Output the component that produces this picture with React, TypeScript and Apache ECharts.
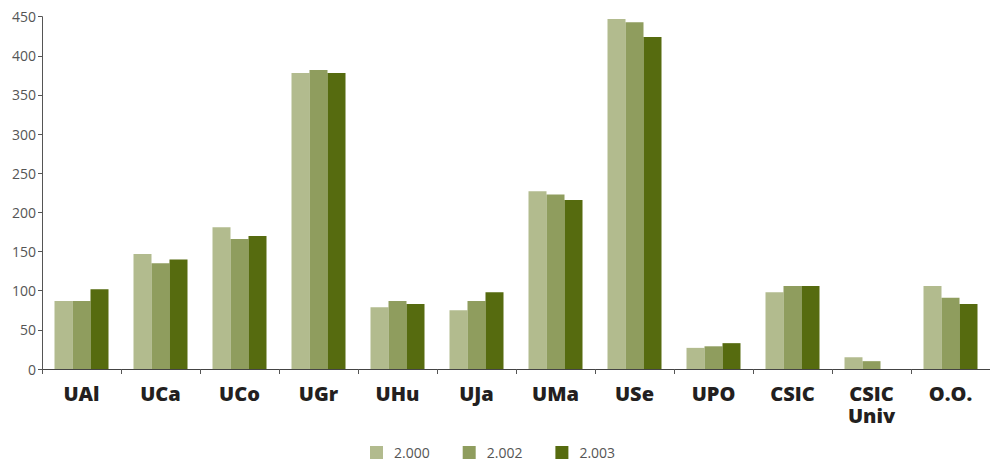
import React, { useEffect, useRef } from "react";
import * as echarts from "echarts";

const categories = ["UAl", "UCa", "UCo", "UGr", "UHu", "UJa", "UMa", "USe", "UPO", "CSIC", "CSIC\nUniv", "O.O."];
const seriesNames = ["2.000", "2.002", "2.003"];
const values2000 = [87, 147, 181, 378, 79, 75, 227, 447, 27, 98, 15, 106];
const values2002 = [87, 135, 166, 382, 87, 87, 223, 443, 29, 106, 10, 91];
const values2003 = [102, 140, 170, 378, 83, 98, 216, 424, 33, 106, null, 83];
const colors = ["#B2BB8E", "#8F9D5E", "#566B0F"];

export default function App() {
  const ref = useRef<HTMLDivElement>(null);
  useEffect(() => {
    if (!ref.current) return;
    const chart = echarts.init(ref.current, undefined, { renderer: "svg" });
    const all = [values2000, values2002, values2003];
    chart.setOption({
      animation: false,
      backgroundColor: "#ffffff",
      color: colors,
      grid: { left: 42, top: 16.7, width: 956.5, height: 352.3, containLabel: false },
      legend: {
        data: seriesNames,
        left: 370,
        top: 445.5,
        padding: 0,
        itemWidth: 13,
        itemHeight: 13,
        itemGap: 33,
        icon: "rect",
        textStyle: {
          fontFamily: "Open Sans",
          fontSize: 14,
          lineHeight: 13,
          color: "#555555",
          padding: [0, 0, 0, 6],
        },
      },
      xAxis: {
        type: "category",
        data: categories,
        boundaryGap: true,
        axisLine: { lineStyle: { color: "#444444", width: 1 } },
        axisTick: { show: true, length: 5, alignWithLabel: false, lineStyle: { color: "#555555" } },
        axisLabel: {
          interval: 0,
          margin: 13,
          fontFamily: "Open Sans",
          fontWeight: 800,
          fontSize: 20,
          lineHeight: 22,
          color: "#231F20",
        },
      },
      yAxis: {
        type: "value",
        min: 0,
        max: 450,
        interval: 50,
        splitLine: { show: false },
        axisLine: { show: true, lineStyle: { color: "#555555", width: 1 } },
        axisTick: { show: true, length: 4, lineStyle: { color: "#555555" } },
        axisLabel: { margin: 6, fontFamily: "Open Sans", fontSize: 14, color: "#555555" },
      },
      series: seriesNames.map((name, i) => ({
        name,
        type: "bar",
        data: all[i],
        barWidth: 18,
        barGap: "0%",
        itemStyle: { color: colors[i] },
      })),
    });
    return () => chart.dispose();
  }, []);
  return (
    <div
      ref={ref}
      style={{ position: "absolute", left: 0, top: 0, width: 990, height: 459 }}
    />
  );
}
